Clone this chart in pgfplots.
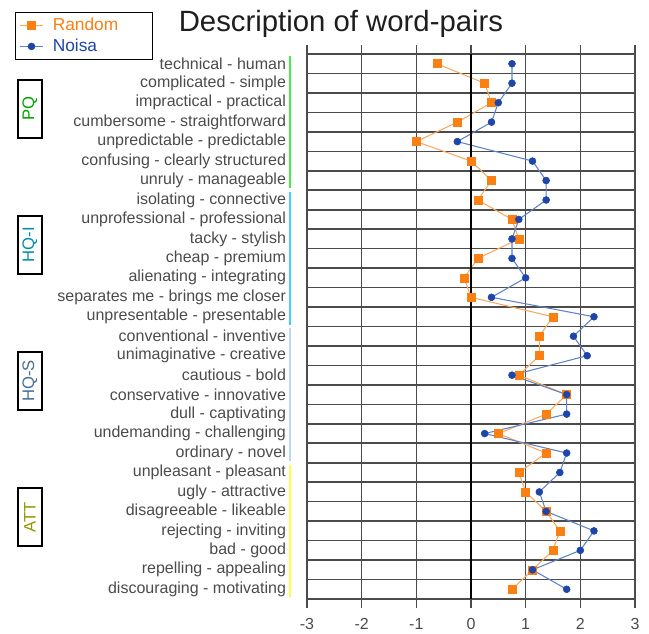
\documentclass[border=0pt]{standalone}
\usepackage{fontspec}
\setmainfont{Liberation Sans}
\usepackage{pgfplots}
\pgfplotsset{compat=1.18}
\usepackage{pgfplotstable}

\definecolor{rndline}{RGB}{250,170,95}
\definecolor{rndmark}{RGB}{250,128,20}
\definecolor{noiline}{RGB}{95,130,200}
\definecolor{noimark}{RGB}{30,70,170}
\definecolor{gridc}{RGB}{75,75,75}
\definecolor{labc}{RGB}{75,75,75}
\definecolor{titlec}{RGB}{30,30,30}
\definecolor{pqbar}{RGB}{70,235,70}
\definecolor{hqibar}{RGB}{70,205,255}
\definecolor{hqsbar}{RGB}{185,215,255}
\definecolor{attbar}{RGB}{255,255,70}
\definecolor{pqtxt}{RGB}{0,160,0}
\definecolor{hqitxt}{RGB}{0,140,170}
\definecolor{hqstxt}{RGB}{70,110,150}
\definecolor{atttxt}{RGB}{150,150,0}

\pgfplotstableread{
row random noisa
1  -0.625 0.75
2  0.25   0.75
3  0.375  0.5
4  -0.25  0.375
5  -1.0   -0.25
6  0.0    1.125
7  0.375  1.375
8  0.125  1.375
9  0.75   0.875
10 0.875  0.75
11 0.125  0.75
12 -0.125 1.0
13 0.0    0.375
14 1.5    2.25
15 1.25   1.875
16 1.25   2.125
17 0.875  0.75
18 1.75   1.75
19 1.375  1.75
20 0.5    0.25
21 1.375  1.75
22 0.875  1.625
23 1.0    1.25
24 1.375  1.375
25 1.625  2.25
26 1.5    2.0
27 1.125  1.125
28 0.75   1.75
}\data

\begin{document}
\begin{tikzpicture}
\path[use as bounding box] (-230.25pt,-25.5pt) rectangle (256.5pt,449.25pt);
\begin{axis}[
  at={(0pt,0pt)}, anchor=south west,
  scale only axis, width=246pt, height=408.75pt,
  xmin=-3, xmax=3, ymin=0.5, ymax=28.5, y dir=reverse,
  xtick={-3,-2,-1,0,1,2,3},
  ytick={1,...,28},
  yticklabels={technical - human, complicated - simple, impractical - practical, cumbersome - straightforward, unpredictable - predictable, confusing - clearly structured, unruly - manageable, isolating - connective, unprofessional - professional, tacky - stylish, cheap - premium, alienating - integrating, separates me - brings me closer, unpresentable - presentable, conventional - inventive, unimaginative - creative, cautious - bold, conservative - innovative, dull - captivating, undemanding - challenging, ordinary - novel, unpleasant - pleasant, ugly - attractive, disagreeable - likeable, rejecting - inviting, bad - good, repelling - appealing, discouraging - motivating},
  minor ytick={0.5,1.5,...,28.5},
  xmajorgrids, yminorgrids,
  major grid style={gridc, line width=1.2pt},
  minor grid style={gridc, line width=1.2pt},
  axis line style={gridc, line width=1.2pt},
  tick align=outside,
  major tick length=6.75pt,
  minor tick length=7.5pt,
  xtick style={gridc, line width=1.2pt},
  ytick style={draw=none},
  minor y tick style={gridc, line width=1.2pt},
  /pgf/number format/assume math mode=true,
  xticklabel style={font=\fontsize{12}{14}\selectfont, text=labc, yshift=-4pt},
  yticklabel style={font=\fontsize{12}{14}\selectfont, text=labc, xshift=-5.5pt},
  clip=false,
  legend style={at={(-0.890,1.077)}, anchor=north west, draw=black, line width=0.8pt,
    font=\fontsize{13}{15}\selectfont, inner xsep=3pt, inner ysep=2pt, row sep=1pt},
  legend cell align=left,
]
\addplot[rndline, line width=0.8pt, mark=square*, mark size=3pt,
  mark options={rndmark, fill=rndmark, line width=0.4pt}] table[x=random, y=row] {\data};
\addlegendentry{\hspace*{5pt}\makebox[70pt][l]{\textcolor{rndmark}{Random}}}
\addplot[noiline, line width=0.8pt, mark=*, mark size=2.6pt,
  mark options={noimark, fill=noimark, line width=0.4pt}] table[x=noisa, y=row] {\data};
\addlegendentry{\hspace*{5pt}\makebox[70pt][l]{\textcolor{noimark}{Noisa}}}

\draw[black, line width=1.6pt] (axis cs:0,0.5) -- (axis cs:0,28.5);

\draw[pqbar, line width=2pt] (axis cs:-3.31,0.6) -- (axis cs:-3.31,7.4);
\draw[hqibar, line width=2pt] (axis cs:-3.31,7.6) -- (axis cs:-3.31,14.4);
\draw[hqsbar, line width=2pt] (axis cs:-3.31,14.6) -- (axis cs:-3.31,21.4);
\draw[attbar, line width=2pt] (axis cs:-3.31,21.6) -- (axis cs:-3.31,28.4);

\tikzset{grp/.style={draw=black, line width=1.5pt, rotate=90, minimum width=43.5pt, minimum height=18pt, inner sep=0pt, font=\fontsize{12.5}{14}\selectfont}}
\node[grp, text=pqtxt] at (axis cs:-8.07,3.3) {PQ};
\node[grp, text=hqitxt] at (axis cs:-8.07,10.3) {HQ-I};
\node[grp, text=hqstxt] at (axis cs:-8.07,17.3) {HQ-S};
\node[grp, text=atttxt] at (axis cs:-8.07,24.3) {ATT};
\end{axis}
\node[font=\fontsize{22}{26}\selectfont, text=titlec, anchor=base] at (25.5pt,425.25pt) {Description of word-pairs};
\end{tikzpicture}
\end{document}
